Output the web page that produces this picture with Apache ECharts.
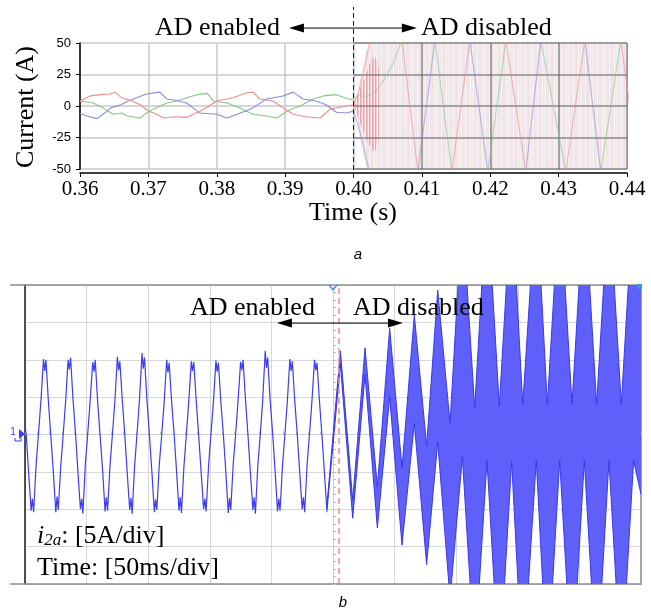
<!DOCTYPE html>
<html><head><meta charset="utf-8">
<script src="https://cdn.jsdelivr.net/npm/echarts/dist/echarts.min.js"></script>
<style>html,body{margin:0;padding:0;background:#fff}#c{width:651px;height:616px}</style>
</head><body><div id="c"></div>
<script>
// ---------------- Panel a : three-phase currents ----------------
const xTicksA = ['0.36','0.37','0.38','0.39','0.40','0.41','0.42','0.43','0.44'];
const yTicksA = ['-50','-25','0','25','50'];
const switchT = 0.40;

const redLeft = [[0.3600,4],[0.3615,8],[0.3630,9],[0.3644,9.5],[0.3651,11],[0.3661,6.5],[0.3676,4],[0.3688,1],[0.3700,-4],[0.3712,-6.5],[0.3722,-9.5],[0.3740,-8.5],[0.3756,-9],[0.3766,-6.5],[0.3776,-4],[0.3786,-1],[0.3800,4],[0.3824,6.5],[0.3844,10.5],[0.3853,11],[0.3863,5.5],[0.3882,4],[0.3897,-1.5],[0.3912,-6.5],[0.3930,-8.5],[0.3951,-9.5],[0.3966,-2.5],[0.3980,-1],[0.4000,1]];
const redRight = [[0.4000,1],[0.4008,12],[0.4016,30],[0.4024,52],[0.4047,150],[0.40708,52],[0.40942,-52],[0.4119,-150],[0.41439,-52],[0.41702,52],[0.4196,150],[0.42228,52],[0.4252,-52],[0.4281,-150],[0.43105,-52],[0.43383,52],[0.4365,150],[0.43909,52],[0.44172,-52]];

const blueLeft = [[0.3600,-6],[0.3610,-8],[0.3625,-10],[0.3635,-6],[0.3645,-1.5],[0.3660,1],[0.3670,4],[0.3680,6],[0.3697,9.5],[0.3717,11],[0.3727,5.5],[0.3740,4.5],[0.3756,2.4],[0.3775,-5.5],[0.3800,-6.5],[0.3815,-9.5],[0.3830,-6.5],[0.3853,-1.5],[0.3873,5.5],[0.3897,8],[0.3912,11],[0.3926,5.5],[0.3945,4],[0.3960,1],[0.3975,-5],[0.3990,-5.5],[0.4000,-4]];
const blueRight = [[0.4000,-4],[0.4006,-14],[0.4012,-26],[0.4018,-40],[0.4023,-52],[0.4060,-150],[0.40942,-52],[0.4119,52],[0.4145,150],[0.41702,52],[0.41965,-52],[0.4225,-150],[0.4252,-52],[0.4274,52],[0.4306,150],[0.43383,52],[0.43617,-52],[0.4390,-150],[0.4420,-60]];

const greenLeft = [[0.3600,4],[0.3619,2.4],[0.3634,-1.5],[0.3648,-6.5],[0.3661,-5.5],[0.3669,-8],[0.3688,-9.5],[0.3695,-6.5],[0.3707,-2.5],[0.3727,2.4],[0.3742,4],[0.3756,6.5],[0.3771,9],[0.3786,10],[0.3795,4],[0.3815,2.4],[0.3834,-1.5],[0.3853,-6.5],[0.3873,-8],[0.3888,-9.5],[0.3903,-4],[0.3922,0],[0.3941,5.5],[0.3956,8],[0.3975,9],[0.3990,6],[0.4000,5]];
const greenRight = [[0.4000,5],[0.4008,9],[0.4016,7],[0.4026,9],[0.4036,14],[0.4046,22],[0.4058,34],[0.40708,52],[0.4094,150],[0.4119,52],[0.41439,-52],[0.4170,-150],[0.41965,-52],[0.42228,52],[0.4248,150],[0.4274,52],[0.43105,-52],[0.4336,-150],[0.43617,-52],[0.43909,52],[0.4420,150]];

// envelope of the dense high-frequency oscillation after AD is disabled
const paleT  = [0.4003, 0.4010, 0.4018, 0.4026, 0.4400];
const paleUp = [2, 22, 42, 52, 52];
const paleLo = [-2, -28, -48, -52, -52];
const redEnvT  = [0.4001, 0.4007, 0.4013, 0.4019, 0.4025, 0.4031, 0.4037];
const redEnvUp = [1, 10, 18, 27, 35, 40, 30];
const redEnvLo = [-1, -10, -18, -26, -33, -37, -25];

// annotation arrow (panel a): tip positions in time, level in overlay units
const arrowA = {from: 0.39056, to: 0.40927, level: 0.877};

// ---------------- Panel b : oscilloscope i2a (ms, A) ----------------
const bLine = [[0,1.2],[1,0],[3,-5.2],[5,-10.2],[6,-8.6],[7,-10.4],[9,-4.1],[11,0.2],[13,4.7],[15,10.1],[16,8.5],[17,10],[19,4.4],[21,-0.3],
[23,-5],[25,-10.4],[26,-8.3],[27,-10.1],[29,-4.3],[31,0],[33,4.5],[35,10],[36,8.7],[37,10.3],[39,4.6],[41,0.2],
[43,-5.1],[45,-10],[46,-8.6],[47,-10.6],[49,-4],[51,0.3],[53,4.8],[55,9.7],[56,8.4],[57,10],[59,4.3],[61,-0.2],
[63,-4.8],[65,-10.3],[66,-8.4],[67,-10.2],[69,-4.2],[71,0.1],[73,4.6],[75,10.4],[76,8.6],[77,9.8],[79,4.5],[81,0],
[83,-5.2],[85,-10.1],[86,-8.5],[87,-10.6],[89,-4.1],[91,0.2],[93,4.9],[95,10.9],[96,8.8],[97,10.3],[99,4.6],[101,-0.1],
[103,-5],[105,-10.4],[106,-8.7],[107,-10.1],[109,-4],[111,0],[113,4.4],[115,10],[116,8.3],[117,9.6],[119,4.4],[121,0.2],
[123,-4.9],[125,-10.2],[126,-8.4],[127,-10.5],[129,-4.3],[131,0.1],[133,4.6],[135,9.8],[136,8.5],[137,9.7],[139,4.5],[141,-0.2],
[143,-5.1],[145,-10],[146,-8.6],[147,-10.3],[149,-4.2],[151,0.2],[153,4.5],[155,9.9],[156,8.4],[157,9.6],[159,4.3],[161,0],
[163,-5],[165,-10.5],[166,-8.5],[167,-10.1],[169,-4],[171,0.1],[173,4.7],[175,9.7],[176,8.6],[177,10],[179,4.6],[181,-0.1],
[183,-5.2],[185,-10.1],[186,-8.4],[187,-10.6],[189,-4.1],[191,0],[193,4.8],[195,11.2],[196,8.9],[197,10.3],[199,4.5],[201,0.2],
[203,-4.9],[205,-10.3],[206,-8.6],[207,-10.2],[209,-4.2],[211,0.1],[213,4.6],[215,10.1],[216,8.5],[217,9.8],[219,4.4],[221,0],
[223,-5.1],[225,-10],[226,-8.4],[227,-10.4],[229,-4],[231,0.2],[233,4.7],[235,10],[236,8.6],[237,9.6],[239,4.5],[241,0],[243,-5],[245,-10]];

// thick oscillating band after AD disabled: extremum times, upper & lower edges (A)
const bandT  = [245, 256, 266, 276, 286, 296, 306, 316, 326, 335, 345, 355, 365, 375, 385, 395, 404, 415, 424, 434, 444, 454, 464, 474, 484, 494, 500];
const bandUp = [-9.6, 11.2, -8.8, 11.6, -7, 14.2, -4.5, 16, -1.5, 19.3, 1.5, 30, 3.5, 32, 3.8, 32, 4, 32, 4, 32, 4, 32, 4, 32, 4, 32, 21];
const bandLo = [-10.4, 9.4, -11.2, 8, -12.5, 5, -14.8, 1.5, -17.4, -1, -22, -3, -30, -3.5, -32, -3.6, -32, -3.5, -32, -3.5, -32, -3.5, -32, -3.5, -32, -3.5, -8];
const switchB = 255;
const arrowB = {from: 204.5, to: 306.8, level: 14.9};

// ---------------- helpers (style only) ----------------
function stripes(cols, w) {
  const c = document.createElement('canvas');
  c.width = cols.length * w; c.height = 4;
  const g = c.getContext('2d');
  cols.forEach((col, i) => { g.fillStyle = col; g.fillRect(i * w, 0, w, 4); });
  return c;
}
const palePat = stripes(['#f2dfe2','#f5e6e8','#f8f4f4','#e2eee1','#ebf1ea','#f7f3f3','#f1dcdf','#f6e8ea','#e6e5f2','#f8f6f6','#f2e0e3','#eee8e9'], 1);
const redPat = stripes(['#f0a6ae','#f4bcc2','#fdf0f1','#ec9eaa','#f7ccd1','#fff6f6'], 1);

const serif = '"Liberation Serif", "Times New Roman", serif';
const sans = '"Liberation Sans", Arial, sans-serif';

// filled band between lower and upper edge, through the axes' scales
function bandSeries(T, lo, up, fill, stroke, xi, yi, z) {
  return {
    type:'custom', xAxisIndex:xi, yAxisIndex:yi, clip:true, silent:true, z:z,
    data:[[T[0], lo[0]]],
    renderItem:(params, api) => {
      const top = T.map((t,i)=>api.coord([t, up[i]]));
      const bot = T.map((t,i)=>api.coord([t, lo[i]]));
      const kids = [{type:'polygon', shape:{points: top.concat(bot.slice().reverse())}, style:{fill:fill}}];
      if (stroke) {
        kids.push({type:'polyline', shape:{points: top}, style:{stroke:stroke, lineWidth:1, fill:null}});
        kids.push({type:'polyline', shape:{points: bot}, style:{stroke:stroke, lineWidth:1, fill:null}});
      }
      return {type:'group', children:kids};
    }
  };
}
// double-headed arrow between two data positions
function arrowSeries(a, xi, yi, z) {
  return {
    type:'custom', xAxisIndex:xi, yAxisIndex:yi, silent:true, z:z, clip:false,
    data:[[a.from, a.level]],
    renderItem:(params, api) => {
      const p1 = api.coord([a.from, a.level]);
      const p2 = api.coord([a.to, a.level]);
      const L = 15, W = 4.5;
      return {type:'group', children:[
        {type:'line', shape:{x1:p1[0]+L-2, y1:p1[1], x2:p2[0]-L+2, y2:p2[1]}, style:{stroke:'#000', lineWidth:1}},
        {type:'polygon', shape:{points:[[p1[0],p1[1]],[p1[0]+L,p1[1]-W],[p1[0]+L,p1[1]+W]]}, style:{fill:'#000'}},
        {type:'polygon', shape:{points:[[p2[0],p2[1]],[p2[0]-L,p2[1]-W],[p2[0]-L,p2[1]+W]]}, style:{fill:'#000'}}
      ]};
    }
  };
}

const darkGrid = 'rgba(95,95,95,0.7)';
const gridMarks = {
  silent:true, symbol:'none', z:2, animation:false,
  label:{show:false}, emphasis:{disabled:true},
  lineStyle:{color:darkGrid, width:1.5, type:'solid'},
  data:[
    [{coord:[switchT,50]},{coord:[0.44,50]}],
    [{coord:[switchT,25]},{coord:[0.44,25]}],
    [{coord:[switchT,0]},{coord:[0.44,0]}],
    [{coord:[switchT,-25]},{coord:[0.44,-25]}],
    [{coord:[switchT,-50]},{coord:[0.44,-50]}],
    [{coord:[0.41,-50]},{coord:[0.41,50]}],
    [{coord:[0.42,-50]},{coord:[0.42,50]}],
    [{coord:[0.43,-50]},{coord:[0.43,50]}],
    [{coord:[0.44,-50]},{coord:[0.44,50]}]
  ]
};
const phaseLine = (data, color, opacity, extra) => Object.assign({type:'line', xAxisIndex:0, yAxisIndex:0, data:data,
  symbol:'none', silent:true, z:3, lineStyle:{color:color, width:1.1, opacity:opacity}}, extra || {});

const chart = echarts.init(document.getElementById('c'), null, {renderer:'canvas', width:651, height:616});
const option = {
  animation:false,
  backgroundColor:'#ffffff',
  grid:[
    {left:80, top:43, width:547, height:126, outerBoundsMode:'none', containLabel:false, show:false},
    {left:25, top:285, width:616, height:299, outerBoundsMode:'none', containLabel:false, show:false},
    {left:80, top:7, width:547, height:171, outerBoundsMode:'none', containLabel:false, show:false}
  ],
  xAxis:[
    {gridIndex:0, type:'value', min:0.36, max:0.44, interval:0.01, offset:4,
      axisLine:{show:true, onZero:false, lineStyle:{color:'#000', width:1.5}},
      axisTick:{show:true, inside:false, length:4, lineStyle:{color:'#000', width:1}},
      axisLabel:{show:true, margin:6, fontFamily:serif, fontSize:21, color:'#000', showMinLabel:true, showMaxLabel:true, hideOverlap:false,
        formatter:(v,i)=>xTicksA[i]},
      splitLine:{show:true, lineStyle:{color:'#c8c8c8', width:1.5}}},
    {gridIndex:1, type:'value', min:0, max:500, interval:50, position:'bottom',
      axisLine:{show:true, onZero:false, lineStyle:{color:'#8c8c8c', width:1.5}},
      axisTick:{show:false}, axisLabel:{show:false},
      splitLine:{show:true, lineStyle:{color:'#d8d8d8', width:1}}},
    {gridIndex:1, type:'value', min:0, max:500, interval:50, position:'top',
      axisLine:{show:true, onZero:false, lineStyle:{color:'#8c8c8c', width:1.5}},
      axisTick:{show:false}, axisLabel:{show:false}, splitLine:{show:false}},
    {gridIndex:1, type:'value', min:0, max:500, interval:50, position:'bottom', offset:-149.5,
      axisLine:{show:true, onZero:false, lineStyle:{color:'#cfcfcf', width:1}},
      axisTick:{show:true, inside:true, length:3, lineStyle:{color:'#bdbdbd'}},
      minorTick:{show:true, splitNumber:5, length:3, lineStyle:{color:'#bdbdbd'}},
      axisLabel:{show:false}, splitLine:{show:false}},
    {gridIndex:2, type:'value', min:0.36, max:0.44, show:false}
  ],
  yAxis:[
    {gridIndex:0, type:'value', min:-50, max:50, interval:25,
      axisLine:{show:true, onZero:false, lineStyle:{color:'#000', width:1.5}},
      axisTick:{show:true, inside:false, length:4, lineStyle:{color:'#000', width:1}},
      axisLabel:{show:true, margin:9, fontFamily:sans, fontSize:13, color:'#000', showMinLabel:true, showMaxLabel:true,
        formatter:(v,i)=>yTicksA[i]},
      splitLine:{show:true, lineStyle:{color:'#c8c8c8', width:1.5}}},
    {gridIndex:1, type:'value', min:-20, max:20, interval:5, position:'left',
      axisLine:{show:true, onZero:false, lineStyle:{color:'#1a1a1a', width:1.5}},
      axisTick:{show:false}, axisLabel:{show:false},
      splitLine:{show:true, lineStyle:{color:'#d8d8d8', width:1}}},
    {gridIndex:1, type:'value', min:-20, max:20, interval:5, position:'right',
      axisLine:{show:true, onZero:false, lineStyle:{color:'#8c8c8c', width:1.5}},
      axisTick:{show:false}, axisLabel:{show:false}, splitLine:{show:false}},
    {gridIndex:1, type:'value', min:-20, max:20, interval:5, position:'left', offset:-308,
      axisLine:{show:true, onZero:false, lineStyle:{color:'#cfcfcf', width:1}},
      axisTick:{show:true, inside:true, length:3, lineStyle:{color:'#bdbdbd'}},
      minorTick:{show:true, splitNumber:5, length:3, lineStyle:{color:'#bdbdbd'}},
      axisLabel:{show:false}, splitLine:{show:false}},
    {gridIndex:2, type:'value', min:0, max:1, show:false}
  ],
  series:[
    bandSeries(paleT, paleLo, paleUp, {image:palePat, repeat:'repeat'}, null, 0, 0, 1),
    bandSeries(redEnvT, redEnvLo, redEnvUp, {image:redPat, repeat:'repeat'}, null, 0, 0, 1),
    phaseLine(greenLeft, '#86c686', 1, {markLine:gridMarks}),
    phaseLine(blueLeft, '#8a8ade', 1),
    phaseLine(redLeft, '#f28a8a', 1),
    phaseLine(greenRight, '#86c686', 0.6),
    phaseLine(blueRight, '#8a8ade', 0.6),
    phaseLine(redRight, '#f28a8a', 0.6),
    {type:'line', xAxisIndex:4, yAxisIndex:4, data:[[switchT,0],[switchT,1]], symbol:'none', silent:true, z:6,
      lineStyle:{color:'#222', width:1, type:[5,3]}},
    arrowSeries(arrowA, 4, 4, 6),
    // panel b
    {type:'line', xAxisIndex:1, yAxisIndex:1, data:bLine, symbol:'none', silent:true, z:3,
      lineStyle:{color:'#3c3cf4', width:1.2},
      markLine:{silent:true, z:6, symbol:'none', label:{show:false},
        lineStyle:{color:'#f28a8a', width:1.5, type:[6,4]},
        data:[{xAxis:switchB}]}},
    bandSeries(bandT, bandLo, bandUp, '#5f5ffa', '#3838ea', 1, 1, 3),
    arrowSeries(arrowB, 1, 1, 7)
  ],
  graphic:[
    {type:'text', x:155, y:28, z:100, style:{text:'AD enabled', font:'26px '+serif, fill:'#000', align:'left', verticalAlign:'middle'}},
    {type:'text', x:421, y:28, z:100, style:{text:'AD disabled', font:'26px '+serif, fill:'#000', align:'left', verticalAlign:'middle'}},
    {type:'text', x:26, y:107, rotation:Math.PI/2, z:100, style:{text:'Current (A)', font:'26px '+serif, fill:'#000', align:'center', verticalAlign:'middle'}},
    {type:'text', x:353, y:213, z:100, style:{text:'Time (s)', font:'26px '+serif, fill:'#000', align:'center', verticalAlign:'middle'}},
    {type:'text', x:358, y:255, z:100, style:{text:'a', font:'italic 15px '+sans, fill:'#000', align:'center', verticalAlign:'middle'}},
    {type:'text', x:190, y:308, z:100, style:{text:'AD enabled', font:'26px '+serif, fill:'#000', align:'left', verticalAlign:'middle'}},
    {type:'text', x:353, y:308, z:100, style:{text:'AD disabled', font:'26px '+serif, fill:'#000', align:'left', verticalAlign:'middle'}},
    {type:'text', x:37, y:536, z:100, style:{text:'{i|i}{s|2a}{n|: [5A/div]}', fill:'#000', verticalAlign:'middle',
      rich:{i:{font:'italic 26px '+serif, fill:'#000'}, s:{font:'italic 17px '+serif, fill:'#000', verticalAlign:'bottom'}, n:{font:'26px '+serif, fill:'#000'}}}},
    {type:'text', x:37, y:568, z:100, style:{text:'Time: [50ms/div]', font:'26px '+serif, fill:'#000', align:'left', verticalAlign:'middle'}},
    {type:'text', x:343, y:603, z:100, style:{text:'b', font:'italic 15px '+sans, fill:'#000', align:'center', verticalAlign:'middle'}},
    {type:'line', z:100, shape:{x1:10, y1:285, x2:25, y2:285}, style:{stroke:'#8c8c8c', lineWidth:1.5}},
    {type:'line', z:100, shape:{x1:10, y1:584, x2:25, y2:584}, style:{stroke:'#8c8c8c', lineWidth:1.5}},
    {type:'text', x:13, y:432, z:100, style:{text:'1', font:'10px '+sans, fill:'#3c3cf4', align:'center', verticalAlign:'middle'}},
    {type:'polygon', z:100, shape:{points:[[19,429],[25,434],[19,439]]}, style:{fill:'#3c3cf4'}},
    {type:'polyline', z:100, shape:{points:[[15,438],[15,441],[21,441],[21,438]]}, style:{stroke:'#3c3cf4', lineWidth:1, fill:null}},
    {type:'polyline', z:100, shape:{points:[[329,285],[333,290],[337,285]]}, style:{stroke:'#4a7ff0', lineWidth:1.3, fill:null}},
    {type:'rect', z:100, shape:{x:637, y:284, width:5, height:5}, style:{fill:'#3a8ff0'}}
  ]
};
chart.setOption(option);
</script></body></html>
